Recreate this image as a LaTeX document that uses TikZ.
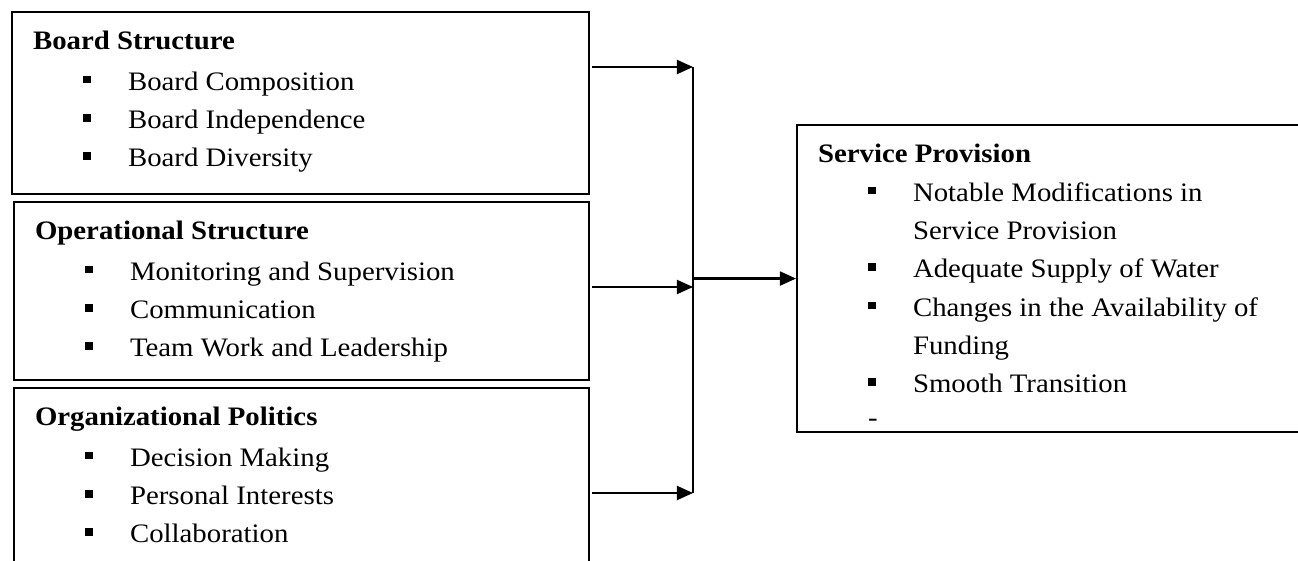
\documentclass[tikz,border=0pt]{standalone}
\usepackage{fontspec}
\setmainfont{Liberation Serif}[FakeStretch=1.08]
\usepackage{tikz}
\usetikzlibrary{arrows.meta,positioning,calc}

\newcommand{\bul}{\hspace*{24pt}\rule[3.4pt]{3.6pt}{3.6pt}\hspace*{18pt}}
\newcommand{\cont}{\hspace*{45.6pt}}

\begin{document}
\begin{tikzpicture}[->,>={Triangle[length=7.7pt,width=6.7pt]},
x=0.48pt, y=-0.48pt,
line width=1pt]
\tikzstyle{every node}=[font=\fontsize{12.8pt}{18.4pt}\selectfont]
 \tikzset{
 	factorBox/.style={
 		rectangle,
 		draw,
 		anchor=north west,
 		line width=1pt
 	},
 	itemList/.style={
 		anchor=north west,
 		align=left,
 		inner sep=0pt
 	}
 }

\useasboundingbox (0,0) rectangle (1298,561);
\clip (0,0) rectangle (1298,561);

%--------------------------- factor boxes ------------
\node[factorBox, minimum width=276.96pt, minimum height=87.36pt]
(BS) at (11,11) {};
\node[itemList] (BSlist) at ($(BS.north west)+(21,11)$) {\strut\textbf{Board Structure}\\[1pt]
	\bul Board Composition\\
	\bul Board Independence\\
	\bul Board Diversity};

\node[factorBox, minimum width=276pt, minimum height=85.44pt]
(OS) at (13,201) {};
\node[itemList] (OSlist) at ($(OS.north west)+(21,11)$) {\strut\textbf{Operational Structure}\\[1pt]
	\bul Monitoring and Supervision\\
	\bul Communication\\
	\bul Team Work and Leadership};

\node[factorBox, minimum width=276pt, minimum height=96pt]
(OP) at (13,387) {};
\node[itemList] (OPlist) at ($(OP.north west)+(21,11)$) {\strut\textbf{Organizational Politics}\\[1pt]
	\bul Decision Making\\
	\bul Personal Interests\\
	\bul Collaboration};

%--------------------------- outcome box ------------
\node[factorBox, minimum width=251.52pt, minimum height=147.36pt]
(SP) at (796,124) {};
\node[itemList] (SPlist) at ($(SP.north west)+(21,11)$) {\strut\textbf{Service Provision}\\[0pt]
	\bul Notable Modifications in\\
	\cont Service Provision\\
	\bul Adequate Supply of Water\\
	\bul Changes in the Availability of\\
	\cont Funding\\
	\bul Smooth Transition\\[-2.4pt]
	\hspace*{24pt}-};

%--------------------------- connectors ------------
\coordinate (T1) at (693,67);
\coordinate (T2) at (693,287);
\coordinate (T3) at (693,493);

\draw[->, shorten <=1pt](BS.east |- T1) -- (T1);
\draw[->, shorten <=1pt](OS.east |- T2) -- (T2);
\draw[->, shorten <=1pt](OP.east |- T3) -- (T3);
\draw[-](T1) -- (T3);
\draw[->](T1 |- SP.west) -- (SP.west);

\end{tikzpicture}
\end{document}
